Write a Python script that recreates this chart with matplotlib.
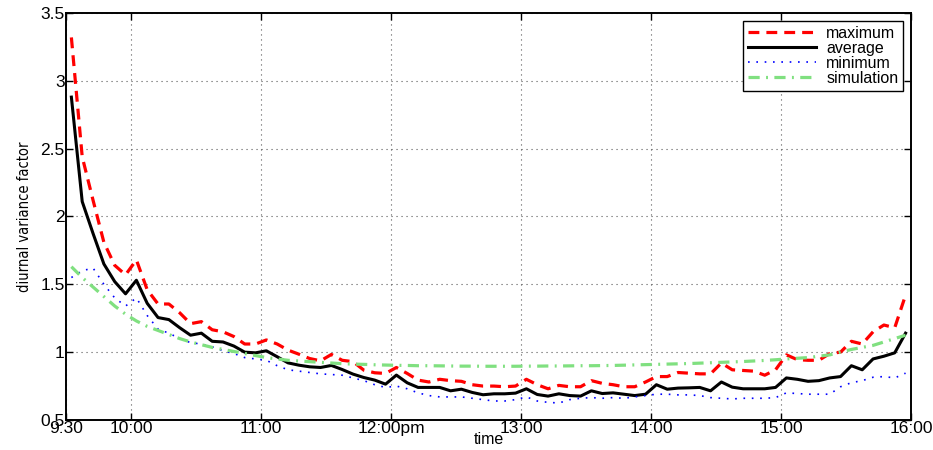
import numpy as np
import matplotlib
matplotlib.use("Agg")
import matplotlib.pyplot as plt

plt.rcParams['font.family'] = ['Liberation Sans', 'DejaVu Sans']

# minutes after 9:30, one value every 5 minutes (mid-interval)
minutes = np.arange(2.5, 390, 5)

maximum = [3.32, 2.44, 2.12, 1.81, 1.64, 1.57, 1.68, 1.46, 1.355, 1.355,
           1.29, 1.21, 1.225, 1.165, 1.15, 1.115, 1.06, 1.06, 1.09, 1.06,
           1.015, 0.985, 0.953, 0.936, 0.983, 0.94, 0.93, 0.867, 0.848, 0.843,
           0.887, 0.843, 0.794, 0.78, 0.80, 0.79, 0.785, 0.76, 0.75, 0.75,
           0.745, 0.75, 0.80, 0.76, 0.73, 0.755, 0.745, 0.745, 0.79, 0.77,
           0.76, 0.745, 0.745, 0.78, 0.82, 0.82, 0.85, 0.845, 0.84, 0.84,
           0.92, 0.87, 0.865, 0.86, 0.83, 0.87, 0.98, 0.945, 0.94, 0.94,
           0.99, 1.0, 1.08, 1.06, 1.15, 1.20, 1.18, 1.42]

average = [2.88, 2.11, 1.875, 1.65, 1.52, 1.43, 1.53, 1.36, 1.255, 1.24,
           1.18, 1.125, 1.14, 1.08, 1.075, 1.045, 1.0, 0.995, 1.01, 0.966,
           0.921, 0.904, 0.892, 0.887, 0.902, 0.872, 0.838, 0.813, 0.794, 0.764,
           0.831, 0.774, 0.74, 0.74, 0.74, 0.715, 0.727, 0.703, 0.686, 0.693,
           0.693, 0.698, 0.73, 0.688, 0.676, 0.693, 0.68, 0.676, 0.715, 0.695,
           0.70, 0.69, 0.68, 0.69, 0.76, 0.727, 0.735, 0.737, 0.74, 0.715,
           0.78, 0.742, 0.73, 0.73, 0.73, 0.74, 0.81, 0.80, 0.785, 0.79,
           0.81, 0.82, 0.90, 0.87, 0.95, 0.97, 0.995, 1.14]

minimum = [1.55, 1.60, 1.62, 1.50, 1.40, 1.34, 1.40, 1.27, 1.17, 1.14,
           1.10, 1.07, 1.06, 1.04, 1.01, 0.99, 0.96, 0.95, 0.94, 0.90,
           0.87, 0.86, 0.85, 0.84, 0.835, 0.83, 0.81, 0.79, 0.76, 0.74,
           0.75, 0.73, 0.70, 0.68, 0.67, 0.67, 0.67, 0.66, 0.65, 0.64,
           0.64, 0.65, 0.67, 0.64, 0.63, 0.625, 0.65, 0.66, 0.665, 0.66,
           0.665, 0.66, 0.67, 0.68, 0.69, 0.69, 0.685, 0.685, 0.68, 0.665,
           0.66, 0.655, 0.66, 0.66, 0.66, 0.665, 0.70, 0.695, 0.69, 0.69,
           0.69, 0.745, 0.775, 0.79, 0.815, 0.82, 0.81, 0.845]

simulation = [1.63, 1.55, 1.48, 1.41, 1.34, 1.28, 1.23, 1.19, 1.16, 1.13,
              1.10, 1.075, 1.055, 1.035, 1.02, 1.005, 0.99, 0.975, 0.96, 0.95,
              0.94, 0.935, 0.93, 0.925, 0.92, 0.915, 0.912, 0.91, 0.907, 0.905,
              0.903, 0.902, 0.90, 0.90, 0.899, 0.898, 0.897, 0.897, 0.896, 0.896,
              0.896, 0.896, 0.897, 0.897, 0.898, 0.898, 0.899, 0.90, 0.90, 0.901,
              0.902, 0.904, 0.906, 0.908, 0.91, 0.912, 0.914, 0.916, 0.919, 0.922,
              0.925, 0.928, 0.931, 0.935, 0.939, 0.944, 0.95, 0.955, 0.96, 0.97,
              0.98, 1.0, 1.02, 1.035, 1.05, 1.075, 1.10, 1.125]

tick_minutes = [0, 30, 90, 150, 210, 270, 330, 390]
tick_labels = ['9:30', '10:00', '11:00', '12:00pm', '13:00', '14:00', '15:00', '16:00']
y_ticks = [0.5, 1, 1.5, 2, 2.5, 3, 3.5]
y_labels = ['0.5', '1', '1.5', '2', '2.5', '3', '3.5']

fig = plt.figure(figsize=(9.33, 4.5), dpi=100)
ax = fig.add_axes([0.0707, 0.0667, 0.9057, 0.9044])

ax.plot(minutes, maximum, color='red', lw=2.3, dashes=(3.4, 2.2), label='maximum')
ax.plot(minutes, average, color='black', lw=2.2, label='average')
ax.plot(minutes, minimum, color='blue', lw=1.2, dashes=(1, 4), label='minimum')
ax.plot(minutes, simulation, color='#80e080', lw=2.3, dashes=(3.5, 2, 0.6, 2), label='simulation')

ax.set_xlim(0, 390)
ax.set_ylim(0.5, 3.5)
ax.set_xticks(tick_minutes)
ax.set_xticklabels(tick_labels)
ax.set_yticks(y_ticks)
ax.set_yticklabels(y_labels)
ax.tick_params(direction='in', length=5, width=1, top=True, right=True,
               labelsize=12.5, pad=1)
for s in ax.spines.values():
    s.set_linewidth(1.4)

ax.grid(True, color='0.35', lw=0.8, linestyle=(0, (1, 3.5)))

ax.set_xlabel('time', fontsize=11.5, labelpad=-3)
ax.set_ylabel('diurnal variance factor', fontsize=10.5, labelpad=6,
              family='DejaVu Sans', fontstretch='condensed')

leg = ax.legend(loc='upper right', fontsize=11.5, handlelength=4.3,
                fancybox=False, framealpha=1, edgecolor='black',
                borderaxespad=0.5, labelspacing=0.0, borderpad=0.3,
                handletextpad=0.6)
leg.get_frame().set_linewidth(1.0)

fig.savefig('out.png', dpi=100)
